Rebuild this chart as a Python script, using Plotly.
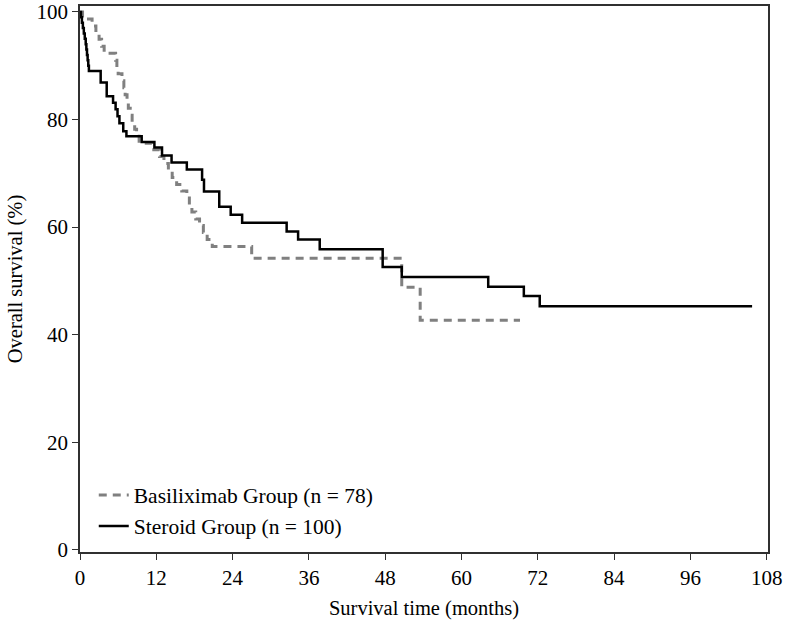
import plotly.graph_objects as go

# Steroid group (n = 100) Kaplan-Meier steps
steroid_time = [0, 0.15, 0.3, 0.45, 0.6, 0.75, 0.9, 1.0, 1.1, 1.2, 1.3, 1.4,
                3.25, 4.2, 5.2, 5.6, 5.9, 6.2, 6.8, 7.3, 9.7, 11.7, 12.9, 14.4,
                16.8, 19.2, 19.5, 21.9, 23.7, 25.5, 32.5, 34.3, 37.7, 47.6,
                50.6, 64.2, 69.8, 72.3, 105.7]
steroid_surv = [100, 99, 98, 97, 96, 95, 94, 93, 92, 91, 90, 89,
                86.9, 84.3, 83.1, 81.9, 80.6, 79.3, 77.8, 76.9, 75.8, 74.8, 73.3, 72.0,
                70.7, 68.8, 66.6, 63.8, 62.3, 60.8, 59.2, 57.7, 55.9, 52.6,
                50.7, 48.9, 47.2, 45.3, 45.3]

# Basiliximab group (n = 78) Kaplan-Meier steps
basil_time = [0, 0.4, 1.9, 2.5, 3.0, 3.4, 3.8, 5.6, 5.8, 6.0, 6.6, 6.9, 7.1, 7.4,
              7.6, 7.9, 8.2, 8.6, 8.9, 9.3, 11.3, 12.5, 13.2, 13.9, 14.5, 15.2,
              16.0, 16.8, 17.2, 17.6, 18.2, 18.8, 19.4, 20.0, 20.8, 27.0, 50.6,
              53.5, 69.2]
basil_surv = [100, 98.7, 97.4, 96.2, 94.9, 93.6, 92.3, 91.0, 89.7, 88.5, 87.2,
              85.9, 84.6, 83.3, 82.1, 80.8, 79.5, 78.2, 76.9, 75.6, 74.4, 73.1,
              71.8, 70.5, 69.2, 67.9, 66.7, 65.4, 64.1, 62.8, 61.5, 60.3, 59.0,
              57.7, 56.4, 54.2, 48.8, 42.7, 42.7]

x_ticks = [0, 12, 24, 36, 48, 60, 72, 84, 96, 108]
y_ticks = [0, 20, 40, 60, 80, 100]

font_family = "Liberation Serif, Times New Roman, serif"

fig = go.Figure()
fig.add_trace(go.Scatter(
    x=basil_time, y=basil_surv, mode="lines", line_shape="hv",
    name="Basiliximab Group (n = 78)",
    line=dict(color="#808080", width=3, dash="8px,6px"),
))
fig.add_trace(go.Scatter(
    x=steroid_time, y=steroid_surv, mode="lines", line_shape="hv",
    name="Steroid Group (n = 100)",
    line=dict(color="#000000", width=2.5),
))

axis_common = dict(
    showgrid=False, zeroline=False, showline=True, linecolor="#303030",
    linewidth=1.5, mirror=True, ticks="outside", ticklen=6, tickwidth=1.2,
    tickcolor="#303030", automargin=False,
    tickfont=dict(family=font_family, size=21, color="#000"),
)

fig.update_xaxes(range=[0, 108.2], tickvals=x_ticks, ticktext=[str(v) for v in x_ticks],
                 title=dict(text="Survival time (months)", standoff=12,
                            font=dict(family=font_family, size=20.5, color="#000")),
                 **axis_common)
fig.update_yaxes(range=[-0.4, 101.1], tickvals=y_ticks, ticktext=[str(v) for v in y_ticks],
                 title=dict(text="Overall survival (%)", standoff=8,
                            font=dict(family=font_family, size=20.5, color="#000")),
                 **axis_common)

fig.update_layout(
    width=787, height=628,
    margin=dict(l=80, r=19, t=6, b=76),
    paper_bgcolor="white", plot_bgcolor="white",
    font=dict(family=font_family, size=21, color="#000"),
    showlegend=True,
    legend=dict(x=0.02, y=0.142, xanchor="left", yanchor="top",
                bgcolor="rgba(0,0,0,0)", tracegroupgap=0,
                font=dict(family=font_family, size=21.5, color="#000"),
                itemwidth=30),
)

fig.write_html("out.html", config={"displayModeBar": False},
               post_script="document.body.style.margin='0px';")
